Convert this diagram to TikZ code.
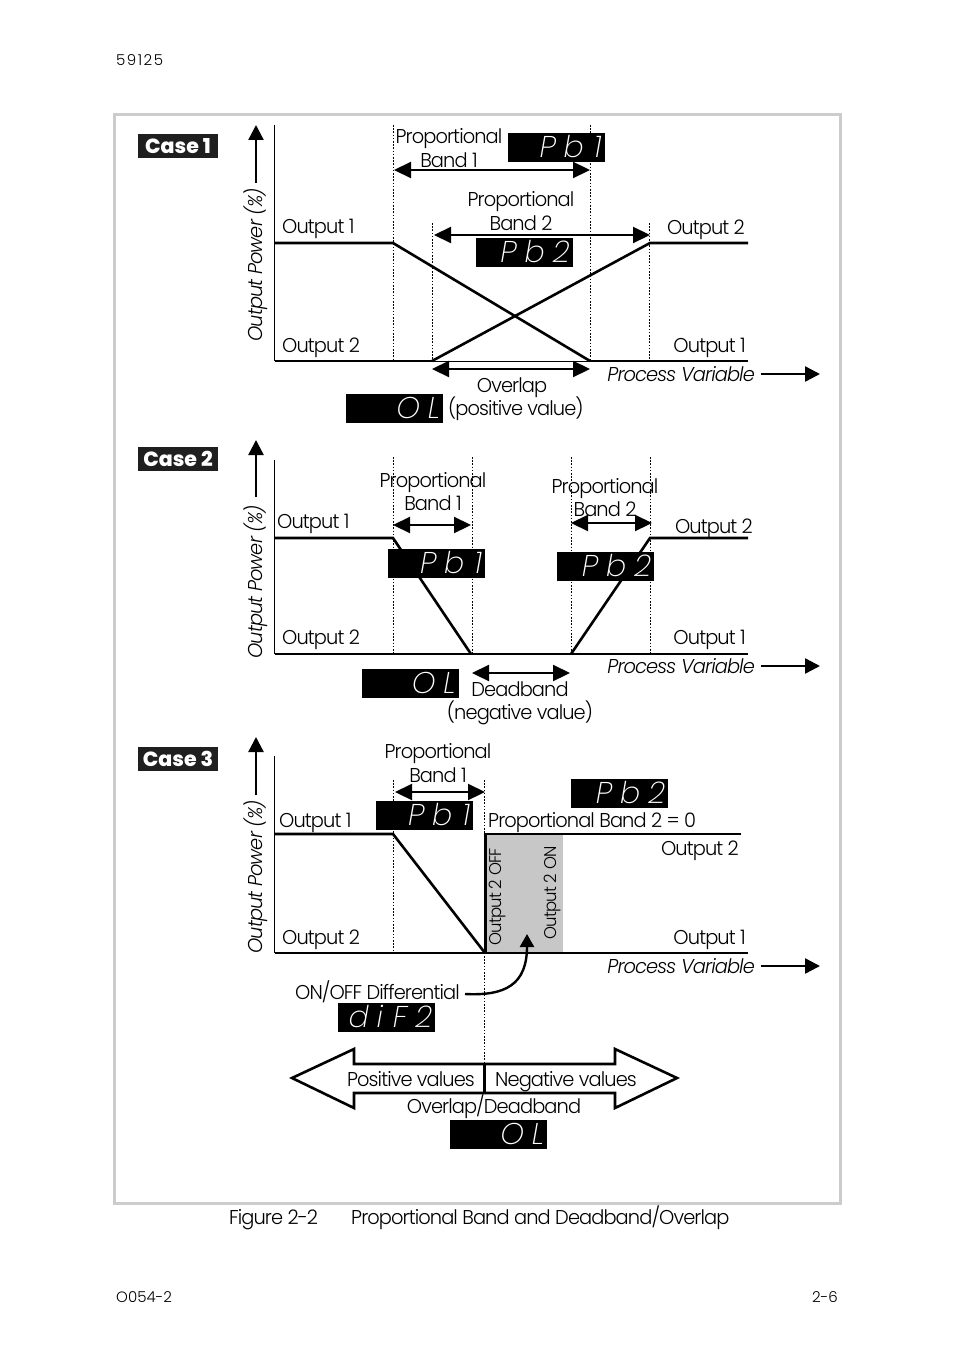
\documentclass[tikz,border=0pt]{standalone}
\usepackage{fontspec}
\usetikzlibrary{arrows.meta}
\setmainfont{Poppins}[UprightFont={* Light},ItalicFont={* Light Italic},BoldFont={* ExtraBold},LetterSpace=-4.5,FakeStretch=0.97]
\newfontfamily\ledfont{Poppins}[UprightFont={* ExtraLight Italic},LetterSpace=26]
\newfontfamily\pgfont{Poppins}[UprightFont={* Light}]
\newfontfamily\pgwide{Poppins}[UprightFont={* Light},LetterSpace=10]
\newfontfamily\casefont{Poppins}[UprightFont={* ExtraBold}]
\tikzset{
 lab/.style={inner sep=0pt,text height=15pt,text depth=0pt,font=\fontsize{20}{20}\selectfont,text=black},
 ilab/.style={lab,font=\fontsize{20}{20}\selectfont\itshape},
 vlab/.style={inner sep=0pt,rotate=90,font=\fontsize{17}{17}\selectfont},
 ylab/.style={inner sep=0pt,rotate=90,font=\fontsize{20}{20}\selectfont\itshape},
 small/.style={inner sep=0pt,text height=11pt,text depth=0pt},
 casebox/.style={fill=black!88,text=white,minimum width=80pt,minimum height=24pt,inner sep=0pt,font=\casefont\fontsize{20.5}{20.5}\selectfont},
 led/.style={fill=black,text=white,minimum width=97pt,minimum height=29pt,inner sep=0pt,anchor=north west,font=\ledfont\fontsize{30}{30}\selectfont,align=right,text width=91pt,text height=19pt,text depth=0pt},
 thinl/.style={line width=1pt},
 thick1/.style={line width=2.6pt,line cap=butt,line join=miter},
 dots/.style={line width=.8pt,dash pattern=on 1.6pt off 1.6pt},
 dbl/.style={line width=2.2pt,{Triangle[length=17pt,width=16pt]}-{Triangle[length=17pt,width=16pt]}},
 sgl/.style={line width=2.4pt,-{Triangle[length=15pt,width=15pt]}},
}
\begin{document}
\begin{tikzpicture}[x=1pt,y=-1pt]
\useasboundingbox (0,0) rectangle (954,1351);
\fill[white] (0,0) rectangle (954,1351);
\draw[line width=3pt,black!20] (114,114.5) rectangle (840.5,1203.5);

\node[small,anchor=west,font=\pgwide\fontsize{15}{15}\selectfont] (pgtop) at (116,60) {59125};
\node[small,anchor=west,font=\pgfont\fontsize{15}{15}\selectfont] (pgl) at (116,1297) {O054-2};
\node[small,anchor=east,font=\pgfont\fontsize{15}{15}\selectfont] (pgr) at (838,1297) {2-6};
\node[lab,anchor=west] (figa) at (229,1217) {Figure 2-2};
\node[lab,anchor=west] (figb) at (351,1217) {Proportional Band and Deadband/Overlap};

% ---------- Case 1
\node[casebox] (c1) at (178,146) {Case 1};
\coordinate (a1t) at (274.5,125); \coordinate (a1o) at (274.5,361);
\coordinate (b1e) at (748,361); \coordinate (u1s) at (274.5,243);
\coordinate (p1a) at (393,243); \coordinate (p1b) at (590,361);
\coordinate (q1a) at (432,361); \coordinate (q1b) at (650,243);
\coordinate (q1e) at (748,243);
\draw[thinl] (a1t) -- (a1o);
\draw[thick1] (a1o) -- (q1a);
\draw[thinl] (q1a) -- (p1b);
\draw[thick1] (p1b) -- (b1e);
\draw[thick1] (u1s) -- (p1a) -- (p1b);
\draw[thick1] (q1a) -- (q1b) -- (q1e);
\draw[dots] (393,125) -- (393,361);
\draw[dots] (590,125) -- (590,361);
\draw[dots] (432.5,223) -- (432.5,361);
\draw[dots] (649.5,223) -- (649.5,361);
\coordinate (ya1b) at (256,183); \coordinate (ya1t) at (256,125);
\draw[sgl] (ya1b) -- (ya1t);
\node[ylab] (yl1) at (256,265) {Output Power (\%)};
\coordinate (xa1a) at (761,374); \coordinate (xa1b) at (820,374);
\draw[sgl] (xa1a) -- (xa1b);
\node[ilab,anchor=east] (pv1) at (755,374) {Process Variable};
\draw[dbl] (394,170) -- (590,170);
\draw[dbl] (434,235) -- (650,235);
\draw[dbl] (432,369) -- (590,369);
\node[lab] (t1a) at (449,136) {Proportional};
\node[lab] (t1b) at (449,160) {Band 1};
\node[lab] (t1c) at (521,199) {Proportional};
\node[lab] (t1d) at (521,223) {Band 2};
\node[lab,anchor=west] (o11) at (282,226) {Output 1};
\node[lab,anchor=west] (o12) at (282,345) {Output 2};
\node[lab,anchor=east] (o13) at (745,227) {Output 2};
\node[lab,anchor=east] (o14) at (746,345) {Output 1};
\node[lab] (t1e) at (512,385) {Overlap};
\node[lab,anchor=west] (t1f) at (448,408) {(positive value)};
\node[led] (l1a) at (507.5,133) {Pb 1};
\node[led] (l1b) at (475.5,238) {Pb2};
\node[led] (l1c) at (346,394) {OL};

% ---------- Case 2
\node[casebox] (c2) at (178,458.5) {Case 2};
\coordinate (a2t) at (274.5,460); \coordinate (a2o) at (274.5,654);
\coordinate (b2e) at (748,654); \coordinate (u2s) at (274.5,538);
\coordinate (p2a) at (393,538); \coordinate (p2b) at (471,654);
\coordinate (q2a) at (571,654); \coordinate (q2b) at (650,538);
\coordinate (q2e) at (748,538);
\draw[thinl] (a2t) -- (a2o);
\draw[thick1] (a2o) -- (b2e);
\draw[thick1] (u2s) -- (p2a) -- (p2b);
\draw[thick1] (q2a) -- (q2b) -- (q2e);
\draw[dots] (393.5,457) -- (393.5,654);
\draw[dots] (472.5,457) -- (472.5,654);
\draw[dots] (571,457) -- (571,654);
\draw[dots] (650,457) -- (650,654);
\coordinate (ya2b) at (256,497); \coordinate (ya2t) at (256,440);
\draw[sgl] (ya2b) -- (ya2t);
\node[ylab] (yl2) at (256,582) {Output Power (\%)};
\coordinate (xa2a) at (761,666); \coordinate (xa2b) at (820,666);
\draw[sgl] (xa2a) -- (xa2b);
\node[ilab,anchor=east] (pv2) at (755,666) {Process Variable};
\draw[dbl] (393,525) -- (471,525);
\draw[dbl] (571,523) -- (652,523);
\draw[dbl] (472,673) -- (570,673);
\node[lab] (t2a) at (433,480) {Proportional};
\node[lab] (t2b) at (433,503) {Band 1};
\node[lab] (t2c) at (605,486) {Proportional};
\node[lab] (t2d) at (605,509) {Band 2};
\node[lab,anchor=west] (o21) at (277,521) {Output 1};
\node[lab,anchor=west] (o22) at (282,637) {Output 2};
\node[lab,anchor=east] (o23) at (753,526) {Output 2};
\node[lab,anchor=east] (o24) at (746,637) {Output 1};
\node[lab] (t2e) at (520,689) {Deadband};
\node[lab] (t2f) at (520,712) {(negative value)};
\node[led] (l2a) at (388,549) {Pb 1};
\node[led] (l2b) at (557,552) {Pb2};
\node[led] (l2c) at (361.5,669) {OL};

% ---------- Case 3
\node[casebox] (c3) at (178,758.5) {Case 3};
\fill[black!22] (485,835) rectangle (563,952);
\coordinate (a3t) at (274.5,756); \coordinate (a3o) at (274.5,953);
\coordinate (b3e) at (748,953); \coordinate (u3s) at (274.5,834);
\coordinate (p3a) at (393,834); \coordinate (p3b) at (485,953);
\coordinate (s3t) at (485.5,834); \coordinate (s3e) at (741,834);
\draw[thinl] (a3t) -- (a3o);
\draw[thick1] (a3o) -- (b3e);
\draw[thick1] (u3s) -- (p3a) -- (p3b);
\draw[thick1] (p3b -| s3t) -- (s3t) -- (s3e);
\draw[dots] (393,780) -- (393,953);
\draw[dots] (484.5,780) -- (484.5,1065);
\coordinate (ya3b) at (256,795); \coordinate (ya3t) at (256,737);
\draw[sgl] (ya3b) -- (ya3t);
\node[ylab] (yl3) at (256,877) {Output Power (\%)};
\coordinate (xa3a) at (761,966); \coordinate (xa3b) at (820,966);
\draw[sgl] (xa3a) -- (xa3b);
\node[ilab,anchor=east] (pv3) at (755,966) {Process Variable};
\draw[dbl] (395,792) -- (485,792);
\node[lab] (t3a) at (438,751) {Proportional};
\node[lab] (t3b) at (438,775) {Band 1};
\node[lab,anchor=west] (t3c) at (488,820) {Proportional Band 2 = 0};
\node[lab,anchor=west] (o31) at (279,820) {Output 1};
\node[lab,anchor=west] (o32) at (282,937) {Output 2};
\node[lab,anchor=east] (o33) at (739,848) {Output 2};
\node[lab,anchor=east] (o34) at (746,937) {Output 1};
\node[vlab] (off) at (497,897) {Output 2 OFF};
\node[vlab] (on) at (552,893) {Output 2 ON};
\node[lab,anchor=east] (diff) at (460,992) {ON/OFF Differential};
\coordinate (cvs) at (465,994); \coordinate (cve) at (527,934);
\draw[line width=2.4pt,-{Triangle[length=13pt,width=14pt]}] (cvs) .. controls (505,996) and (527,985) .. (cve);
\node[led] (l3a) at (376,801) {Pb 1};
\node[led] (l3b) at (571,779) {Pb2};
\node[led] (l3c) at (338,1003) {di F2};
\node[led] (l3d) at (450,1120) {OL};

% ---------- Bottom block arrow
\coordinate (bl) at (292,1078); \coordinate (br) at (677,1078);
\coordinate (bm1) at (484.5,1064); \coordinate (bm2) at (484.5,1093);
\draw[line width=2.6pt,line join=miter,fill=white] (bl) -- (354,1049) -- (354,1064) -- (615,1064) -- (615,1049) -- (br) -- (615,1108) -- (615,1093) -- (354,1093) -- (354,1108) -- cycle;
\draw[line width=2.4pt] (bm1) -- (bm2);
\node[lab] (bp) at (411,1079) {Positive values};
\node[lab] (bn) at (566,1079) {Negative values};
\node[lab] (bo) at (494,1106) {Overlap/Deadband};
\end{tikzpicture}
\end{document}
